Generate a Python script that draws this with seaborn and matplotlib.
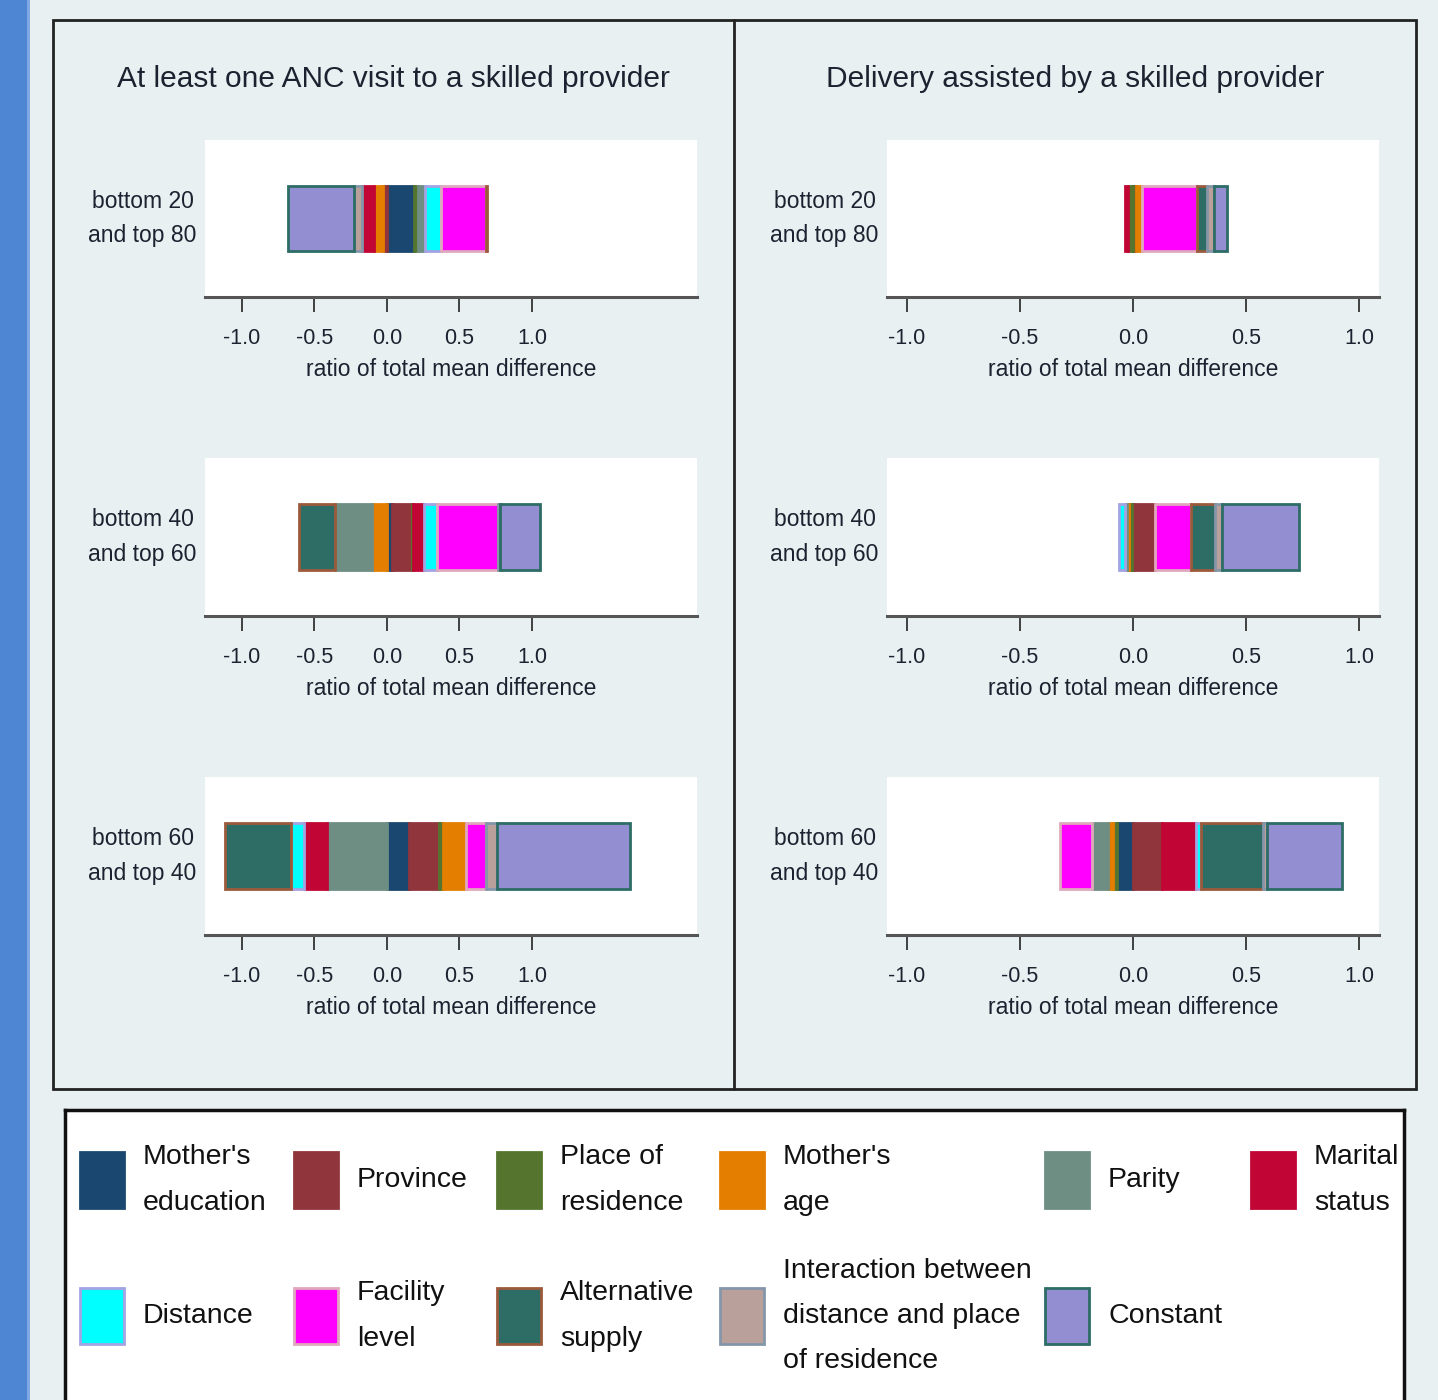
import matplotlib
matplotlib.use("Agg")
import matplotlib.pyplot as plt
from matplotlib.patches import Rectangle
from matplotlib.lines import Line2D
import seaborn as sns

# Decomposition components (legend order = stacking order)
components = [
    "Mother's education", "Province", "Place of residence", "Mother's age",
    "Parity", "Marital status", "Distance", "Facility level",
    "Alternative supply",
    "Interaction between distance and place of residence", "Constant",
]
legend_labels = [
    "Mother's\neducation", "Province", "Place of\nresidence", "Mother's\nage",
    "Parity", "Marital\nstatus", "Distance", "Facility\nlevel",
    "Alternative\nsupply", "Interaction between\ndistance and place\nof residence",
    "Constant",
]
fill_colors = [
    "#1a476f", "#90353b", "#55752f", "#e37e00", "#6e8e84", "#c10534",
    "#00ffff", "#ff00ff", "#2d6d66", "#b9a09a", "#938dd2",
]
edge_colors = [
    "#1a476f", "#90353b", "#55752f", "#e37e00", "#6e8e84", "#c10534",
    "#a4a4e4", "#e0a8bc", "#9c5a3c", "#8497aa", "#2d6d66",
]

outcomes = ["At least one ANC visit to a skilled provider",
            "Delivery assisted by a skilled provider"]
comparisons = ["bottom 20\nand top 80", "bottom 40\nand top 60",
               "bottom 60\nand top 40"]

# Contribution of each component, as a ratio of the total mean difference
anc_b20_t80 = [0.183, -0.025, 0.030, -0.064, 0.046, -0.080,
               0.114, 0.313, 0.004, -0.060, -0.455]
anc_b40_t60 = [0.032, 0.140, 0.004, -0.106, -0.250, 0.080,
               0.092, 0.418, -0.253, 0.012, 0.280]
anc_b60_t40 = [0.152, 0.204, 0.032, 0.154, -0.414, -0.160,
               -0.088, 0.141, -0.455, 0.076, 0.919]
sba_b20_t80 = [0.004, 0.008, -0.022, 0.030, 0.0, -0.012,
               0.0, 0.242, 0.044, 0.030, 0.056]
sba_b40_t60 = [-0.006, 0.097, -0.012, -0.008, -0.009, 0.0,
               -0.028, 0.158, 0.108, 0.030, 0.342]
sba_b60_t40 = [-0.071, 0.128, -0.018, -0.022, -0.071, 0.152,
               0.022, -0.140, 0.273, 0.018, 0.332]

tick_values = [-1.0, -0.5, 0.0, 0.5, 1.0]
tick_labels = ["-1.0", "-0.5", "0.0", "0.5", "1.0"]
x_label = "ratio of total mean difference"

panel_values = [[anc_b20_t80, anc_b40_t60, anc_b60_t40],
                [sba_b20_t80, sba_b40_t60, sba_b60_t40]]
x_limits = [(-1.255, 2.138), (-1.088, 1.088)]

BG = "#e8f0f2"
TEXT = "#1b2330"
FONT = ["Liberation Sans", "DejaVu Sans"]

sns.set_style("white")
plt.rcParams["font.family"] = FONT
plt.rcParams["text.color"] = TEXT
plt.rcParams["axes.labelcolor"] = TEXT
plt.rcParams["xtick.color"] = TEXT
plt.rcParams["ytick.color"] = TEXT

W, H = 1438, 1400
fig = plt.figure(figsize=(W / 100, H / 100), dpi=100, facecolor=BG)


def box(x0, y0, x1, y1):
    return [x0 / W, 1 - y1 / H, (x1 - x0) / W, (y1 - y0) / H]


def draw_stack(ax, values, label):
    """Diverging stacked bar: positives build right of zero, negatives left."""
    pos, neg = 0.0, 0.0
    for v, fc, ec in zip(values, fill_colors, edge_colors):
        if v == 0:
            continue
        if v > 0:
            start, pos = pos, pos + v
        else:
            start, neg = neg, neg + v
        sns.barplot(x=[v], y=[label], left=start, orient="h", ax=ax,
                    color=fc, saturation=1, edgecolor=ec, linewidth=2,
                    width=0.42, errorbar=None)


col_x = [(205, 697), (887, 1379)]
row_y = [(140, 297), (458, 616), (777, 935)]

for ci in range(2):
    for ri in range(3):
        x0, x1 = col_x[ci]
        y0, y1 = row_y[ri]
        ax = fig.add_axes(box(x0, y0, x1, y1))
        draw_stack(ax, panel_values[ci][ri], comparisons[ri])
        ax.set_facecolor("white")
        ax.set_xlim(*x_limits[ci])
        ax.set_ylim(0.5, -0.5)
        ax.set_xticks(tick_values)
        ax.set_xticklabels(tick_labels)
        for side in ("top", "left", "right"):
            ax.spines[side].set_visible(False)
        ax.spines["bottom"].set_color("#555555")
        ax.spines["bottom"].set_linewidth(2.2)
        ax.tick_params(axis="x", direction="out", length=11, width=1.3,
                       color="#333333", pad=11, labelsize=15.5, bottom=True)
        ax.tick_params(axis="y", length=0, pad=6, labelsize=16.5)
        for t in ax.get_yticklabels():
            t.set_multialignment("center")
            t.set_linespacing(1.65)
            t.set_va("center")
        ax.set_xlabel(x_label, fontsize=16.5)
        ax.xaxis.label.set_va("center")
        ax.xaxis.set_label_coords(0.5, -73 / (y1 - y0))
        ax.set_ylabel("")

# Column titles
fig.text(393.5 / W, 1 - 79 / H, outcomes[0], ha="center", va="center",
         fontsize=21.5, color=TEXT)
fig.text(1075 / W, 1 - 79 / H, outcomes[1], ha="center", va="center",
         fontsize=21.5, color=TEXT)

# Frame around both columns with a divider
fig.add_artist(Rectangle((53 / W, 1 - 1089 / H), (1416 - 53) / W,
                         (1089 - 20) / H, fill=False, edgecolor="#222222",
                         linewidth=2, transform=fig.transFigure))
fig.add_artist(Line2D([734 / W, 734 / W], [1 - 1089 / H, 1 - 20 / H],
                      color="#222222", linewidth=2,
                      transform=fig.transFigure))

# Blue strip along the left edge
fig.add_artist(Rectangle((0, 0), 27 / W, 1, facecolor="#4f86d4",
                         edgecolor="none", transform=fig.transFigure,
                         zorder=0))
fig.add_artist(Rectangle((27 / W, 0), 3 / W, 1, facecolor="#7fa8e4",
                         edgecolor="none", transform=fig.transFigure,
                         zorder=0))

# Legend panel
lax = fig.add_axes(box(65, 1110, 1404, 1400))
lax.set_xlim(65, 1404)
lax.set_ylim(1400, 1110)
lax.set_facecolor("white")
lax.set_xticks([])
lax.set_yticks([])
for side in ("top", "left", "right"):
    lax.spines[side].set_color("#111111")
    lax.spines[side].set_linewidth(2.5)
lax.spines["bottom"].set_visible(False)

swatch_x = [80, 294, 497, 720, 1045, 1251]
swatch_y = [1180, 1316]
for i, (lab, fc, ec) in enumerate(zip(legend_labels, fill_colors,
                                      edge_colors)):
    r, c = divmod(i, 6)
    sx, sy = swatch_x[c], swatch_y[r]
    lax.add_patch(Rectangle((sx, sy - 28), 44, 56, facecolor=fc,
                            edgecolor=ec, linewidth=2))
    lax.text(sx + 63, sy, lab, ha="left", va="center", fontsize=20.5,
             linespacing=1.95, color="#111111")

fig.savefig("out.png", dpi=100, facecolor=BG)
